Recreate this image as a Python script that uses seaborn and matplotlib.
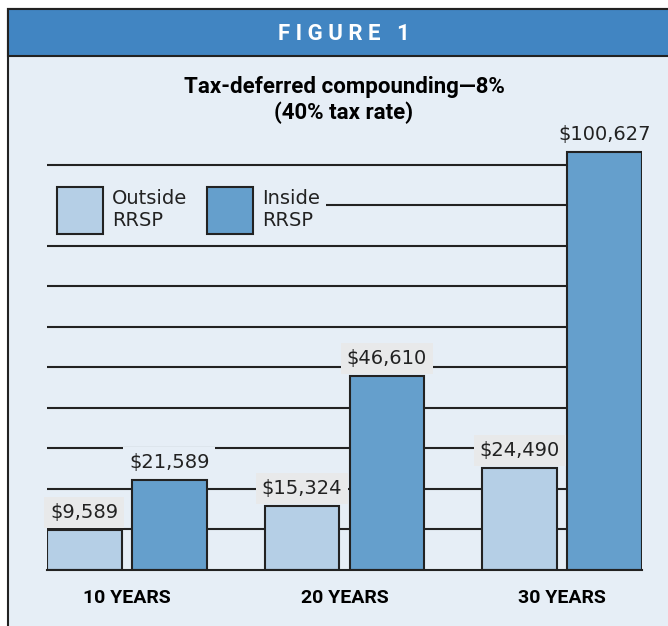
import pandas as pd
import matplotlib.pyplot as plt
import seaborn as sns
from matplotlib.patches import Rectangle
from matplotlib.legend_handler import HandlerPatch

# chart data
periods = ["10 YEARS", "20 YEARS", "30 YEARS"]
outside_rrsp = [9589, 15324, 24490]
inside_rrsp = [21589, 46610, 100627]
series_names = ["Outside\nRRSP", "Inside\nRRSP"]
grid_levels = [9750 * k for k in range(1, 11)]

BG = "#e6eef6"
HEADER = "#4185c2"
LIGHT = "#b5cfe6"
DARK = "#659fcc"
INK = "#222222"
NARROW = ["Liberation Sans Narrow", "Roboto", "DejaVu Sans"]

df = pd.DataFrame({
    "period": periods * 2,
    "value": outside_rrsp + inside_rrsp,
    "series": [series_names[0]] * 3 + [series_names[1]] * 3,
})

sns.set_style("white")
plt.rcParams["font.family"] = ["DejaVu Sans"]

W, H = 668, 626
fig = plt.figure(figsize=(W / 100, H / 100), dpi=100)
fig.patch.set_facecolor("white")

# panel frame + header band
fig.patches.append(Rectangle((8 / W, -0.01), 1.0, 1 - 9 / H + 0.01, transform=fig.transFigure,
                             facecolor=BG, edgecolor=INK, lw=1.5, zorder=-2))
fig.patches.append(Rectangle((8 / W, 1 - 56 / H), 1.0, 47 / H, transform=fig.transFigure,
                             facecolor=HEADER, edgecolor=INK, lw=1.5, zorder=-1))
fig.text(344 / W, 1 - 34 / H, "F I G U R E   1", color="white", fontsize=16,
         fontweight="bold", family=NARROW, ha="center", va="center")
fig.text(344 / W, 1 - 87 / H, "Tax-deferred compounding\u20148%", color="black", fontsize=16,
         fontweight="bold", family=NARROW, ha="center", va="center")
fig.text(344 / W, 1 - 113 / H, "(40% tax rate)", color="black", fontsize=16,
         fontweight="bold", family=NARROW, ha="center", va="center")

ax = fig.add_axes([47 / W, 1 - 570 / H, (642 - 47) / W, (570 - 130) / H])
ax.set_facecolor("none")
ax.set_zorder(2)

sns.barplot(data=df, x="period", y="value", hue="series", ax=ax,
            palette=[LIGHT, DARK], width=0.78, gap=0.12,
            edgecolor=INK, linewidth=1.5, saturation=1, zorder=3)

handles = ax.get_legend().legend_handles
ax.get_legend().remove()

bars = [p for p in ax.patches if p.get_height() > 0]
left = min(p.get_x() for p in bars)
right = max(p.get_x() + p.get_width() for p in bars)
ax.set_xlim(left, right)
ymax = max(inside_rrsp) * 440 / 418
ax.set_ylim(0, ymax)

ax.set_yticks(grid_levels)
ax.set_yticklabels([])
ax.yaxis.grid(True, color=INK, lw=1.5)
ax.set_axisbelow(True)
ax.tick_params(axis="both", length=0)
ax.tick_params(axis="x", pad=14)
for lab in ax.get_xticklabels():
    lab.set_fontfamily(NARROW)
    lab.set_fontweight("bold")
    lab.set_fontsize(14)
    lab.set_color("black")
ax.set_xlabel("")
ax.set_ylabel("")
for side in ["top", "right", "left"]:
    ax.spines[side].set_visible(False)
ax.spines["bottom"].set_color(INK)
ax.spines["bottom"].set_linewidth(1.5)
ax.spines["bottom"].set_zorder(4)

# value labels, gray box only where a grid line runs behind
label_h = 30 * ymax / 440
for p in bars:
    v = p.get_height()
    crosses = any(v < g < v + label_h for g in grid_levels)
    ax.annotate(f"${v:,.0f}", (p.get_x() + p.get_width() / 2, v),
                xytext=(0, 6), textcoords="offset points", ha="center", va="bottom",
                fontsize=14, color=INK, zorder=5,
                bbox=dict(boxstyle="square,pad=0.3", facecolor="#e8e9ea" if crosses else BG,
                          edgecolor="none"))


# taller square legend swatches
def big_swatch(legend, orig_handle, xdescent, ydescent, width, height, fontsize):
    return Rectangle((-xdescent + 2.9, -ydescent - 4.3), width, height + 8.6)


for h in handles:
    h.set_edgecolor(INK)
    h.set_linewidth(1.5)
leg = ax.legend(handles, series_names, loc="upper left",
                bbox_to_anchor=(47 / W, 1 - 183 / H), bbox_transform=fig.transFigure,
                ncol=2, fontsize=14, frameon=True, facecolor=BG, edgecolor="none",
                framealpha=1, fancybox=False, borderaxespad=0, borderpad=0.3,
                handlelength=2.37, handleheight=2.4, handletextpad=0.67,
                columnspacing=0.82, labelcolor=INK,
                handler_map={h: HandlerPatch(patch_func=big_swatch) for h in handles})
leg.set_zorder(6)

fig.savefig("out.png", dpi=100, facecolor=fig.get_facecolor())
